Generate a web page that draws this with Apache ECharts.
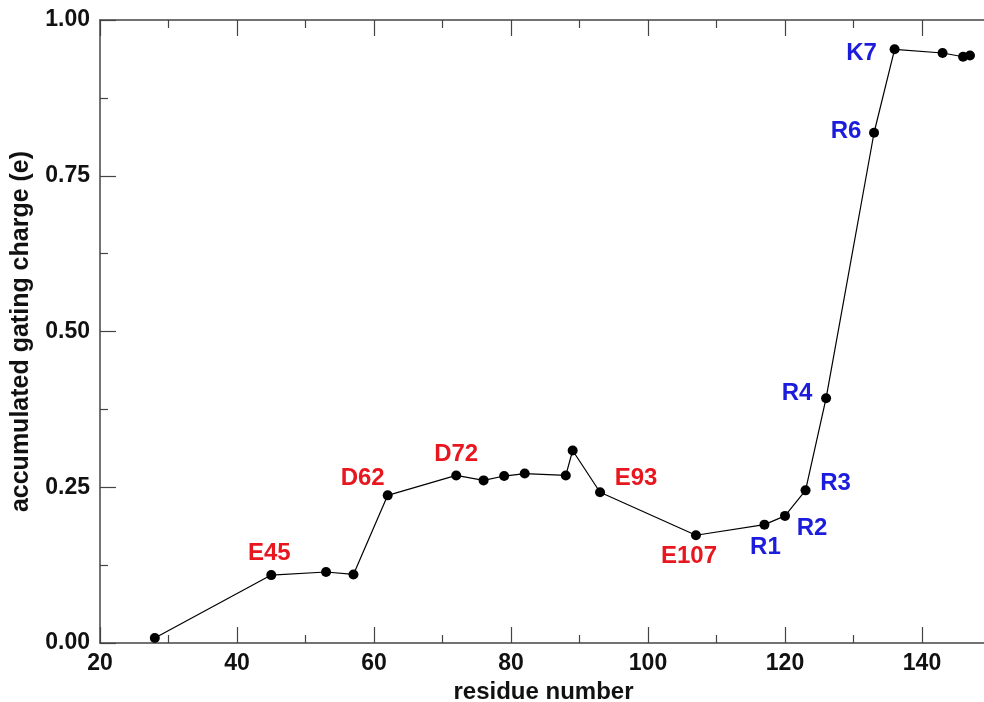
<!DOCTYPE html>
<html>
<head>
<meta charset="utf-8">
<script src="https://cdn.jsdelivr.net/npm/echarts@6/dist/echarts.min.js"></script>
<style>
  html, body { margin: 0; padding: 0; background: #fff; }
  #chart { width: 984px; height: 702px; }
</style>
</head>
<body>
<div id="chart"></div>
<script>
// Accumulated gating charge along the sequence
const residues = [28, 45, 53, 57, 62, 72, 76, 79, 82, 88, 89, 93, 107, 117, 120, 123, 126, 133, 136, 143, 146, 147];
const charges  = [0.008, 0.109, 0.114, 0.110, 0.237, 0.269, 0.261, 0.268, 0.272, 0.269, 0.309, 0.242,
                  0.173, 0.190, 0.204, 0.245, 0.393, 0.819, 0.953, 0.947, 0.941, 0.943];
// Named charged residues (empty = unlabelled point)
const residueNames = ['', 'E45', '', '', 'D62', 'D72', '', '', '', '', '', 'E93',
                      'E107', 'R1', 'R2', 'R3', 'R4', 'R6', 'K7', '', '', ''];
const xTicks = [20, 40, 60, 80, 100, 120, 140];
const yTicks = [0, 0.25, 0.5, 0.75, 1.0];

// Label placement relative to the marker centre
const labelOffsets = {
  E45: [-2, -22], D62: [-25, -17], D72: [0, -21], E93: [36, -14], E107: [-7, 21],
  R1: [1, 23], R2: [27, 12], R3: [30, -7], R4: [-29, -5], R6: [-28, -1], K7: [-33, 4]
};
const ACIDIC = '#e8161e';
const BASIC = '#1c1cdc';
const FONT = '"Liberation Sans", Arial, Helvetica, sans-serif';

const points = residues.map((r, i) => {
  const name = residueNames[i];
  const item = { value: [r, charges[i]] };
  if (name) {
    const acidic = name[0] === 'E' || name[0] === 'D';
    item.label = {
      show: true,
      formatter: name,
      position: 'inside',
      offset: labelOffsets[name],
      align: 'center',
      verticalAlign: 'middle',
      color: acidic ? ACIDIC : BASIC,
      fontFamily: FONT,
      fontWeight: 'bold',
      fontSize: 24
    };
  }
  return item;
});

const frameLine = { show: true, onZero: false, lineStyle: { color: '#444', width: 1.5 } };
const majorTick = { show: true, inside: true, length: 16, lineStyle: { color: '#444', width: 1.2 } };
const minorTick = { show: true, splitNumber: 2, length: 8, lineStyle: { color: '#444', width: 1.2 } };
const tickLabel = { fontFamily: FONT, fontWeight: 'bold', fontSize: 23, color: '#111' };

const xBase = {
  type: 'value', min: xTicks[0], max: 160, interval: xTicks[1] - xTicks[0],
  axisLine: frameLine, axisTick: majorTick, minorTick: minorTick,
  splitLine: { show: false }
};
const yBase = {
  type: 'value', min: yTicks[0], max: yTicks[yTicks.length - 1], interval: yTicks[1] - yTicks[0],
  axisLine: frameLine, axisTick: majorTick, minorTick: minorTick,
  splitLine: { show: false }
};

const chart = echarts.init(document.getElementById('chart'), null, { renderer: 'canvas' });
chart.setOption({
  animation: false,
  backgroundColor: '#fff',
  grid: { left: 100, top: 20, width: 959, height: 623, containLabel: false, outerBoundsMode: 'none' },
  xAxis: [
    Object.assign({}, xBase, {
      position: 'bottom',
      name: 'residue number',
      nameLocation: 'middle',
      nameGap: 33,
      nameTextStyle: {
        fontFamily: FONT, fontWeight: 'bold', fontSize: 24, color: '#111',
        padding: [0, 72, 0, 0]
      },
      axisLabel: Object.assign({}, tickLabel, {
        margin: 9,
        formatter: v => (xTicks.indexOf(v) >= 0 ? String(v) : '')
      })
    }),
    Object.assign({}, xBase, { position: 'top', axisLabel: { show: false } })
  ],
  yAxis: [
    Object.assign({}, yBase, {
      position: 'left',
      name: 'accumulated gating charge (e)',
      nameLocation: 'middle',
      nameGap: 66,
      nameTextStyle: { fontFamily: FONT, fontWeight: 'bold', fontSize: 25, color: '#111' },
      axisLabel: Object.assign({}, tickLabel, {
        margin: 10,
        formatter: v => v.toFixed(2)
      })
    }),
    Object.assign({}, yBase, { position: 'right', axisLabel: { show: false } })
  ],
  series: [{
    type: 'line',
    xAxisIndex: 0,
    yAxisIndex: 0,
    data: points,
    symbol: 'circle',
    symbolSize: 10,
    showSymbol: true,
    clip: false,
    itemStyle: { color: '#000' },
    lineStyle: { color: '#000', width: 1.2 },
    emphasis: { disabled: true }
  }]
});
</script>
</body>
</html>
